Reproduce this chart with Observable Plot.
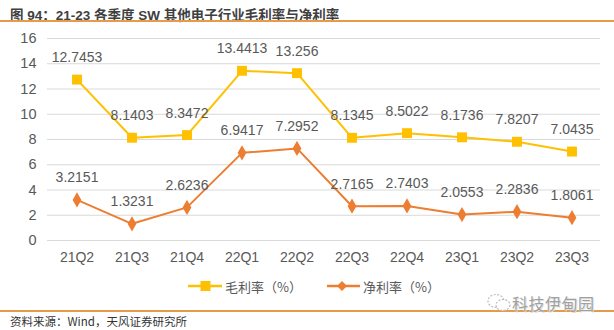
<!DOCTYPE html>
<html>
<head>
<meta charset="utf-8">
<script src="https://cdn.jsdelivr.net/npm/d3@7"></script>
<script src="https://cdn.jsdelivr.net/npm/@observablehq/plot@0.6"></script>
<style>
  html, body { margin: 0; padding: 0; background: #fff; }
  #wrap { position: relative; width: 614px; height: 330px; overflow: hidden; font-family: "Liberation Sans", Arial, "Noto Sans CJK SC", sans-serif; }
  #chart { position: absolute; left: 0; top: 0; }
  .abs { position: absolute; white-space: nowrap; }
  #title { left: 10px; top: 4px; font-size: 13.5px; font-weight: bold; color: #3f3f3f; font-family: "Liberation Sans", Arial, "Noto Sans CJK SC", sans-serif; }
  .rule { left: 0; width: 614px; height: 1.5px; background: #E59A4C; }
  #source { left: 10px; top: 313px; font-size: 11.5px; color: #333; font-family: "Noto Sans CJK SC", sans-serif; }
  .leg { font-size: 13px; color: #595959; font-family: "Noto Sans CJK SC", sans-serif; }
  #wm { top: 291px; font-size: 16px; color: #a0a0a0; font-family: "Noto Sans CJK SC", sans-serif; text-shadow: 0 0 1px #fff, 1px 1px 0 #ddd; letter-spacing: 0.5px; }
</style>
</head>
<body>
<div id="wrap">
  <div id="chart"></div>
  <div id="title" class="abs">图 94：21-23 各季度 SW 其他电子行业毛利率与净利率</div>
  <div class="abs rule" style="top:20px"></div>
  <div class="abs rule" style="top:310px"></div>
  <div id="source" class="abs">资料来源：Wind，天风证券研究所</div>
  <svg class="abs" style="left:186px;top:278px" width="40" height="16">
    <line x1="2" y1="8" x2="36" y2="8" stroke="#FFC000" stroke-width="2.5"/>
    <rect x="14.5" y="3" width="10" height="10" fill="#FFC000"/>
  </svg>
  <div class="abs leg" style="left:225px;top:277px">毛利率（%）</div>
  <svg class="abs" style="left:325px;top:278px" width="40" height="16">
    <line x1="2" y1="8" x2="35" y2="8" stroke="#ED7D31" stroke-width="2.5"/>
    <path d="M17 3 L22 8 L17 13 L12 8 Z" fill="#ED7D31"/>
  </svg>
  <div class="abs leg" style="left:363px;top:277px">净利率（%）</div>
  <svg class="abs" style="left:486px;top:292px" width="28" height="22">
    <ellipse cx="10" cy="9" rx="8" ry="6.5" fill="none" stroke="#bbb" stroke-width="1.2" stroke-dasharray="2 1.5"/>
    <ellipse cx="17" cy="13" rx="7" ry="5.5" fill="#fff" stroke="#bbb" stroke-width="1.2" stroke-dasharray="2 1.5"/>
  </svg>
  <div id="wm" class="abs" style="left:512px">科技伊甸园</div>
</div>
<script>
const quarters = ["21Q2","21Q3","21Q4","22Q1","22Q2","22Q3","22Q4","23Q1","23Q2","23Q3"];
const grossMargin = [12.7453, 8.1403, 8.3472, 13.4413, 13.256, 8.1345, 8.5022, 8.1736, 7.8207, 7.0435];
const netMargin = [3.2151, 1.3231, 2.6236, 6.9417, 7.2952, 2.7165, 2.7403, 2.0553, 2.2836, 1.8061];
const yTicks = [0, 2, 4, 6, 8, 10, 12, 14, 16];

const gross = quarters.map((q, i) => ({q, v: grossMargin[i]}));
const net = quarters.map((q, i) => ({q, v: netMargin[i]}));

const gold = "#FFC000", orange = "#ED7D31", txt = "#595959";

const chart = Plot.plot({
  width: 614,
  height: 330,
  marginLeft: 47,
  marginRight: 14,
  marginTop: 38,
  marginBottom: 90,
  style: {fontFamily: "'Liberation Sans', Arial, sans-serif", fontSize: "14px", color: txt, background: "transparent"},
  x: {type: "band", domain: quarters, padding: 0, label: null},
  y: {domain: [0, 16], label: null},
  marks: [
    Plot.ruleY(yTicks, {stroke: "#d9d9d9", strokeWidth: 1}),
    Plot.axisY({ticks: yTicks, tickSize: 0, tickPadding: 11, fontSize: 14.5, fill: txt, label: null}),
    Plot.axisX({tickSize: 0, tickPadding: 12, fontSize: 14, fill: txt, label: null}),
    Plot.line(gross, {x: "q", y: "v", stroke: gold, strokeWidth: 2}),
    Plot.line(net, {x: "q", y: "v", stroke: orange, strokeWidth: 2}),
    Plot.dot(gross, {x: "q", y: "v", symbol: "square", r: 5.6, fill: gold, stroke: null}),
    Plot.dot(net, {x: "q", y: "v", symbol: "diamond", r: 4.6, fill: orange, stroke: null}),
    Plot.text(gross, {x: "q", y: "v", text: d => String(d.v), dy: -22, fontSize: 14, fill: txt}),
    Plot.text(net, {x: "q", y: "v", text: d => String(d.v), dy: -22, fontSize: 14, fill: txt})
  ]
});
document.getElementById("chart").appendChild(chart);
</script>
</body>
</html>
